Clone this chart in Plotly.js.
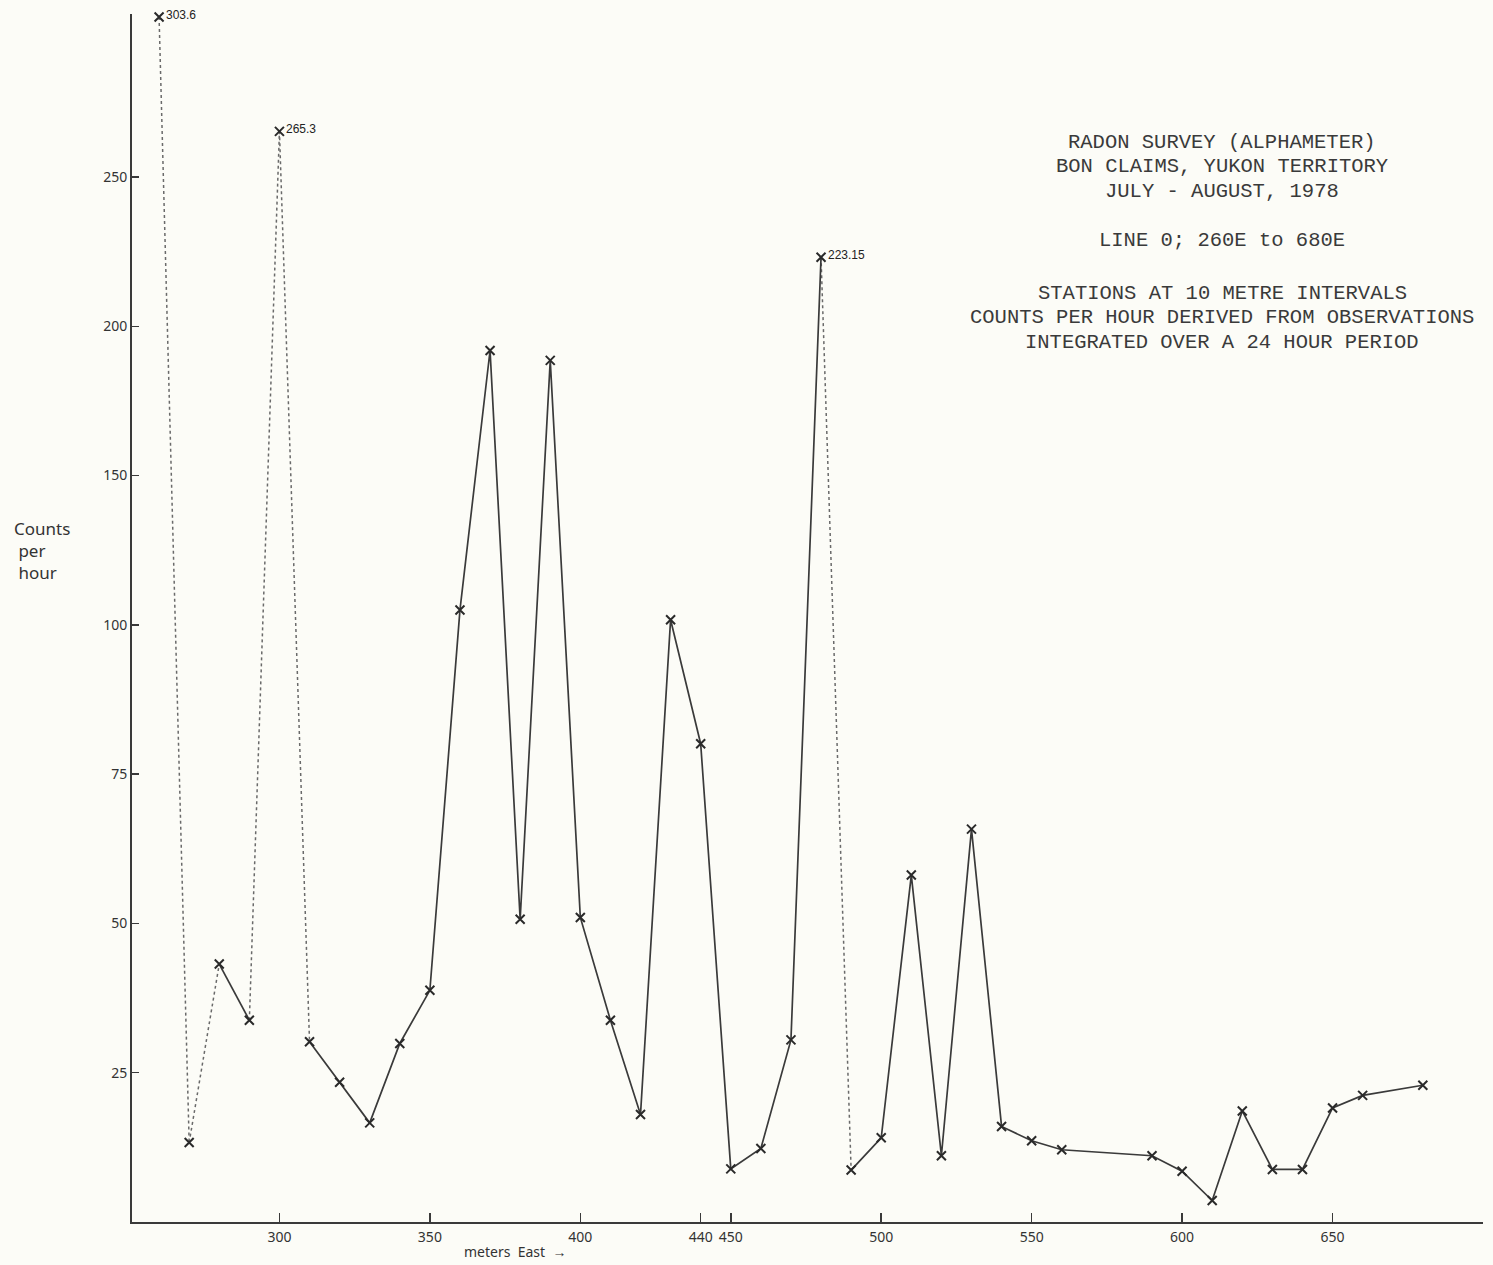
<!DOCTYPE html>
<html><head><meta charset="utf-8">
<script src="https://cdn.plot.ly/plotly-3.0.1.min.js"></script>
<style>html,body{margin:0;padding:0;background:#fcfcf7;}</style>
</head><body><div id="chart" style="width:1493px;height:1265px;"></div>
<script>
// Stations (metres East) and radon counts per hour
const stations = [260,270,280,290,300,310,320,330,340,350,360,370,380,390,400,410,420,430,440,450,460,470,480,490,500,510,520,530,540,550,560,590,600,610,620,630,640,650,660,680];
const counts   = [303.6,13.3,43.2,33.8,265.3,30.2,23.4,16.6,29.9,38.8,105,191.9,50.7,188.6,51,33.8,18.0,101.7,80.1,8.9,12.3,30.5,223.15,8.7,14.1,58.1,11.1,65.8,16.0,13.6,12.1,11.1,8.5,3.6,18.6,8.8,8.8,19.1,21.2,22.9];
// segments (by starting station) drawn as faint dotted plotter lines
const faintSegmentStarts = [260,270,290,300,480];
// hand-written values beside the off-scale peaks
const labelStations = [260,300,480];
const labelTexts    = ["303.6","265.3","223.15"];
// axis ticks
const xTickValues = [300,350,400,440,450,500,550,600,650];
const xTickLabels = ["300","350","400","440","450","500","550","600","650"];
const yTickValues = [25,50,75,100,150,200,250];
const yTickLabels = ["25","50","75","100","150","200","250"];
const titleLines = ["RADON SURVEY (ALPHAMETER)","BON CLAIMS, YUKON TERRITORY","JULY - AUGUST, 1978","LINE 0; 260E to 680E","STATIONS AT 10 METRE INTERVALS","COUNTS PER HOUR DERIVED FROM OBSERVATIONS","INTEGRATED OVER A 24 HOUR PERIOD"];

// the vertical scale is compressed by half above 100 counts
function disp(v){ return v <= 100 ? v : 100 + (v - 100) / 2; }

const ink = '#3a3a3a';
const darkX = [], darkY = [], faintX = [], faintY = [];
for (let i = 0; i < stations.length; i++) {
  darkX.push(stations[i]); darkY.push(disp(counts[i]));
  if (i < stations.length - 1 && faintSegmentStarts.includes(stations[i])) {
    darkX.push(null); darkY.push(null);
    faintX.push(stations[i], stations[i+1], null);
    faintY.push(disp(counts[i]), disp(counts[i+1]), null);
  }
}

const traces = [
  {x: faintX, y: faintY, mode: 'lines', line: {color: '#6a6a6a', width: 1.5, dash: 'dot'}, hoverinfo: 'skip', cliponaxis: false},
  {x: darkX, y: darkY, mode: 'lines', line: {color: ink, width: 1.7}, hoverinfo: 'skip', cliponaxis: false, connectgaps: false},
  {x: stations, y: counts.map(disp), customdata: counts, mode: 'markers',
   marker: {symbol: 'x-thin', size: 9, line: {color: '#2a2a2a', width: 2}},
   hovertemplate: '%{x} m E: %{customdata} counts/h<extra></extra>', cliponaxis: false}
];

// plot area in pixels: x 132..1483, y 14..1222
const L = 132, R = 1483, T = 14, B = 1222;
const px = x => (x - L) / (R - L);
const py = y => (B - y) / (B - T);

const annotations = [];
labelStations.forEach((s, k) => {
  const v = counts[stations.indexOf(s)];
  annotations.push({x: s, y: disp(v), xref: 'x', yref: 'y', text: labelTexts[k], showarrow: false,
    xanchor: 'left', yanchor: 'middle', xshift: 5, yshift: 2,
    font: {family: 'Liberation Sans Narrow, Liberation Sans', size: 12, color: '#222'}});
});
const titleY = [142,167,191,240,293,317,342];
titleLines.forEach((t, k) => {
  annotations.push({x: px(1222), y: py(titleY[k]), xref: 'paper', yref: 'paper', text: t, showarrow: false,
    xanchor: 'center', yanchor: 'middle',
    font: {family: 'Liberation Mono, DejaVu Sans Mono, monospace', size: 20.5, color: '#3a3a3a'}});
});
annotations.push({x: px(12), y: py(550), xref: 'paper', yref: 'paper', text: 'Counts<br> per<br> hour',
  showarrow: false, xanchor: 'left', yanchor: 'middle', align: 'left',
  font: {family: 'Noto Sans', size: 17, color: '#333'}});
annotations.push({x: px(515), y: py(1251), xref: 'paper', yref: 'paper', text: 'meters  East  →',
  showarrow: false, xanchor: 'center', yanchor: 'middle',
  font: {family: 'Noto Sans', size: 14, color: '#333'}});

const layout = {
  width: 1493, height: 1265,
  margin: {l: L, r: 1493 - R, t: T, b: 1265 - B},
  paper_bgcolor: '#fcfcf7', plot_bgcolor: '#fcfcf7',
  showlegend: false,
  xaxis: {range: [251, 700], showgrid: false, zeroline: false, showline: true, linecolor: ink, linewidth: 2,
    ticks: 'inside', ticklen: 9, tickwidth: 1.5, tickcolor: ink, tickvals: xTickValues, ticktext: xTickLabels,
    tickfont: {family: 'Noto Sans', size: 14, color: '#333'}, ticklabelstandoff: 1},
  yaxis: {range: [0, 202.3], showgrid: false, zeroline: false, showline: true, linecolor: ink, linewidth: 2,
    ticks: 'inside', ticklen: 7, tickwidth: 1.5, tickcolor: ink, tickvals: yTickValues.map(disp), ticktext: yTickLabels,
    tickfont: {family: 'Noto Sans', size: 14, color: '#333'}},
  annotations: annotations
};

Plotly.newPlot('chart', traces, layout, {displayModeBar: false, staticPlot: true});
</script></body></html>
